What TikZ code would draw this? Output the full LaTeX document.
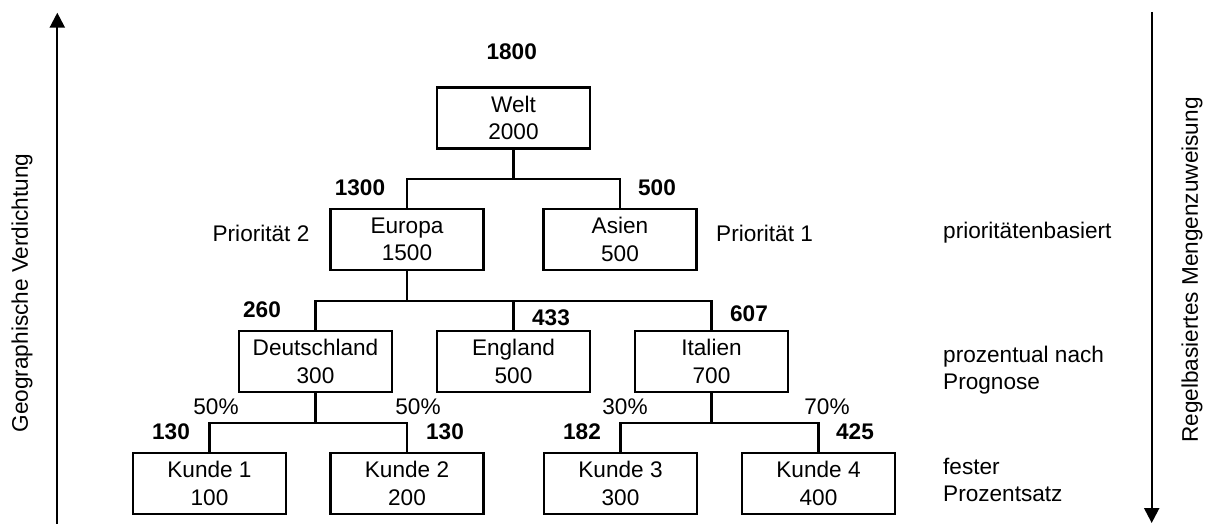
\documentclass[tikz,border=0pt]{standalone}
\usepackage{fontspec}
\setmainfont{Liberation Sans}
\usetikzlibrary{arrows.meta}
\begin{document}
\begin{tikzpicture}[x=1pt,y=-1pt,
  every node/.style={font=\fontsize{22.6}{27.5}\selectfont},
  box/.style={draw,line width=2.2pt,minimum width=153pt,minimum height=61pt,inner sep=0pt,align=center},
  num/.style={font=\fontsize{22.6}{27.5}\selectfont\bfseries,inner sep=0pt},
  pct/.style={inner sep=0pt},
  side/.style={inner sep=0pt,align=left,anchor=west},
  conn/.style={line width=2.2pt},
  axis/.style={line width=2.3pt,-{Triangle[length=15pt,width=15pt]}}]
\useasboundingbox (0,0) rectangle (1211,524);
% boxes
\node[box] (welt) at (513.5,118) {Welt\\2000};
\node[box] (europa) at (407,239.5) {Europa\\1500};
\node[box] (asien) at (620,239.5) {Asien\\500};
\node[box] (de) at (315.5,361.5) {Deutschland\\300};
\node[box] (en) at (513.5,361.5) {England\\500};
\node[box] (it) at (711.5,361.5) {Italien\\700};
\node[box] (k1) at (209.5,483.5) {Kunde 1\\100};
\node[box] (k2) at (407,483.5) {Kunde 2\\200};
\node[box] (k3) at (620.5,483.5) {Kunde 3\\300};
\node[box] (k4) at (818.5,483.5) {Kunde 4\\400};
% bar coordinates
\coordinate (b1) at (513.5,179);
\coordinate (b2) at (407,301);
\coordinate (b3) at (315.5,423);
\coordinate (b4) at (711.5,423);
% connectors
\draw[conn] (welt.south) -- (b1);
\draw[conn] (europa.north) |- (b1) -| (asien.north);
\draw[conn] (europa.south) -- (b2);
\draw[conn] (de.north) |- (b2) -| (it.north);
\draw[conn] (en.north) -- (en.north |- b2);
\draw[conn] (de.south) -- (b3);
\draw[conn] (k1.north) |- (b3) -| (k2.north);
\draw[conn] (it.south) -- (b4);
\draw[conn] (k3.north) |- (b4) -| (k4.north);
% bold numbers
\node[num] (n1800) at (511.7,52) {1800};
\node[num] (n1300) at (360,188) {1300};
\node[num] (n500) at (657,188) {500};
\node[num] (n260) at (262,310) {260};
\node[num] (n433) at (551,318) {433};
\node[num] (n607) at (749,314) {607};
\node[num] (n130a) at (171,432) {130};
\node[num] (n130b) at (445,432) {130};
\node[num] (n182) at (582,432) {182};
\node[num] (n425) at (855,432) {425};
% percentages
\node[pct] (p1) at (216,407) {50\%};
\node[pct] (p2) at (418,407) {50\%};
\node[pct] (p3) at (625,407) {30\%};
\node[pct] (p4) at (827,407) {70\%};
% priorities
\node[inner sep=0pt] (prio2) at (261,233) {Priorität 2};
\node[side] (prio1) at (716,233) {Priorität 1};
% rules
\node[side] (r1) at (943,233) {prioritätenbasiert};
\node[side] (r2) at (943,370) {prozentual nach\\Prognose};
\node[side] (r3) at (943,480) {fester\\Prozentsatz};
% axes
\coordinate (la) at (57.3,524);
\coordinate (lb) at (57.3,12.7);
\draw[axis] (la) -- (lb);
\coordinate (ra) at (1151.7,12);
\coordinate (rb) at (1151.7,523);
\draw[axis] (ra) -- (rb);
\node[rotate=90,inner sep=0pt] (lt) at (22,293) {Geographische Verdichtung};
\node[rotate=90,inner sep=0pt] (rt) at (1192,270) {Regelbasiertes Mengenzuweisung};
\end{tikzpicture}
\end{document}
